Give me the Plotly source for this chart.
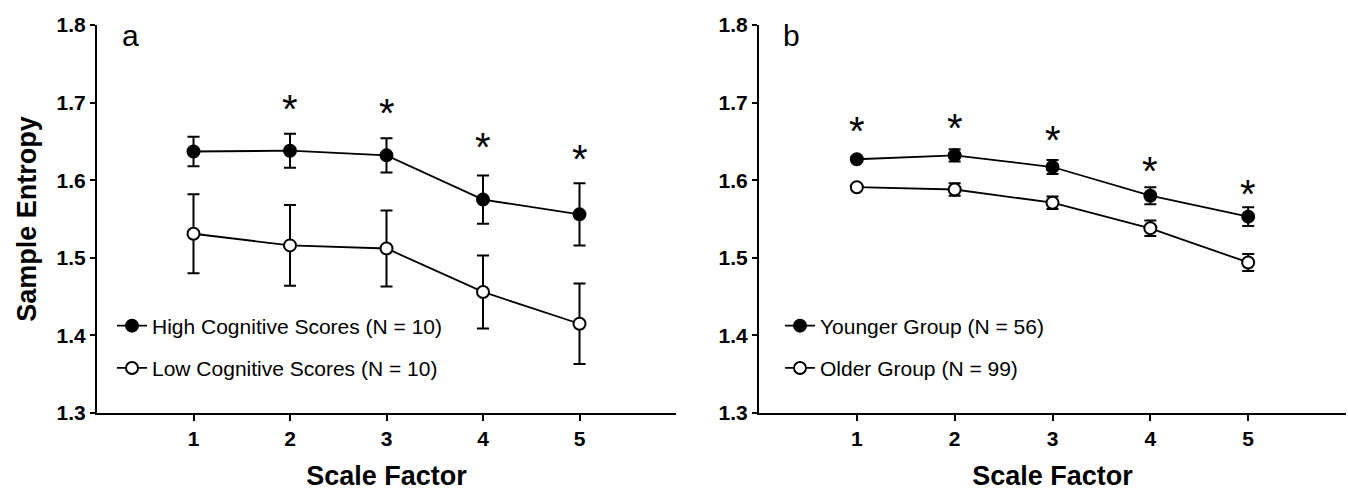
import plotly.graph_objects as go

# ---------------- data ----------------
scale_factor = [1, 2, 3, 4, 5]
x_ticks = [1, 2, 3, 4, 5]
y_ticks = [1.3, 1.4, 1.5, 1.6, 1.7, 1.8]

high_mean = [1.637, 1.638, 1.632, 1.575, 1.556]
high_err = [0.019, 0.022, 0.022, 0.031, 0.040]
low_mean = [1.531, 1.516, 1.512, 1.456, 1.415]
low_err = [0.051, 0.052, 0.049, 0.047, 0.052]

young_mean = [1.627, 1.632, 1.617, 1.580, 1.553]
young_err = [0.002, 0.008, 0.009, 0.011, 0.012]
old_mean = [1.591, 1.588, 1.571, 1.538, 1.494]
old_err = [0.002, 0.008, 0.008, 0.010, 0.011]

star_a_x = [2, 3, 4, 5]
star_a_y = [1.699, 1.694, 1.650, 1.635]
star_b_x = [1, 2, 3, 4, 5]
star_b_y = [1.671, 1.675, 1.660, 1.620, 1.590]

names_a = ["High Cognitive Scores (N = 10)", "Low Cognitive Scores (N = 10)"]
names_b = ["Younger Group (N = 56)", "Older Group (N = 99)"]
panel_labels = ["a", "b"]

# ---------------- figure ----------------
W, H = 1348, 491
FONT = "Liberation Sans, Arial, sans-serif"
fig = go.Figure()


def add_series(x, y, err, name, filled, xa, ya, legend, group):
    fig.add_trace(go.Scatter(
        x=x, y=y, name=name, mode="lines+markers",
        xaxis=xa, yaxis=ya, legend=legend, legendgroup=group,
        line=dict(color="black", width=1.8),
        marker=dict(symbol="circle", size=12,
                    color="black" if filled else "white",
                    line=dict(color="black", width=2)),
        error_y=dict(type="data", array=err, visible=True,
                     color="black", thickness=2, width=6),
    ))


add_series(scale_factor, high_mean, high_err, names_a[0], True, "x", "y", "legend", "a1")
add_series(scale_factor, low_mean, low_err, names_a[1], False, "x", "y", "legend", "a2")
add_series(scale_factor, young_mean, young_err, names_b[0], True, "x2", "y2", "legend2", "b1")
add_series(scale_factor, old_mean, old_err, names_b[1], False, "x2", "y2", "legend2", "b2")

annotations = []
for xs, ys, xr, yr in [(star_a_x, star_a_y, "x", "y"), (star_b_x, star_b_y, "x2", "y2")]:
    for xv, yv in zip(xs, ys):
        annotations.append(dict(x=xv, y=yv, xref=xr, yref=yr, text="*",
                                showarrow=False, yshift=-6,
                                font=dict(family=FONT, size=40, color="black")))

annotations.append(dict(x=120 / W, y=0.974, xref="paper", yref="paper",
                        text=panel_labels[0], showarrow=False, xanchor="left", yanchor="middle",
                        font=dict(family=FONT, size=30, color="black")))
annotations.append(dict(x=781 / W, y=0.974, xref="paper", yref="paper",
                        text=panel_labels[1], showarrow=False, xanchor="left", yanchor="middle",
                        font=dict(family=FONT, size=30, color="black")))

tickfont = dict(family=FONT, size=21, color="black", weight="bold")
titlefont = dict(family=FONT, size=27, color="black", weight="bold")


def xaxis(domain, anchor):
    return dict(domain=domain, anchor=anchor, range=[0, 6], tickvals=x_ticks,
                showline=True, linecolor="black", linewidth=2,
                ticks="outside", ticklen=6, tickwidth=2, tickcolor="black",
                showgrid=False, zeroline=False, tickfont=tickfont,
                title=dict(text="Scale Factor", font=titlefont, standoff=18))


def yaxis(anchor, title):
    d = dict(anchor=anchor, range=[1.3, 1.8], tickvals=y_ticks, tickformat=".1f",
             showline=True, linecolor="black", linewidth=2,
             ticks="outside", ticklen=5, tickwidth=2, tickcolor="black",
             showgrid=False, zeroline=False, tickfont=tickfont)
    if title:
        d["title"] = dict(text=title, font=titlefont, standoff=12)
    return d


legend_common = dict(font=dict(family=FONT, size=21, color="black"),
                     bgcolor="rgba(0,0,0,0)", tracegroupgap=12,
                     itemwidth=30, xanchor="left", yanchor="top", traceorder="grouped")

fig.update_layout(
    width=W, height=H,
    margin=dict(l=0, r=0, t=25, b=78),
    paper_bgcolor="white", plot_bgcolor="white",
    showlegend=True,
    xaxis=xaxis([97 / W, 676 / W], "y"),
    yaxis=yaxis("x", "Sample Entropy"),
    xaxis2=xaxis([759 / W, 1346 / W], "y2"),
    yaxis2=yaxis("x2", None),
    legend=dict(x=112 / W, y=0.277, **legend_common),
    legend2=dict(x=780 / W, y=0.277, **legend_common),
    annotations=annotations,
)

fig.write_html("out.html", config={"displayModeBar": False},
               post_script="document.body.style.margin='0';")
